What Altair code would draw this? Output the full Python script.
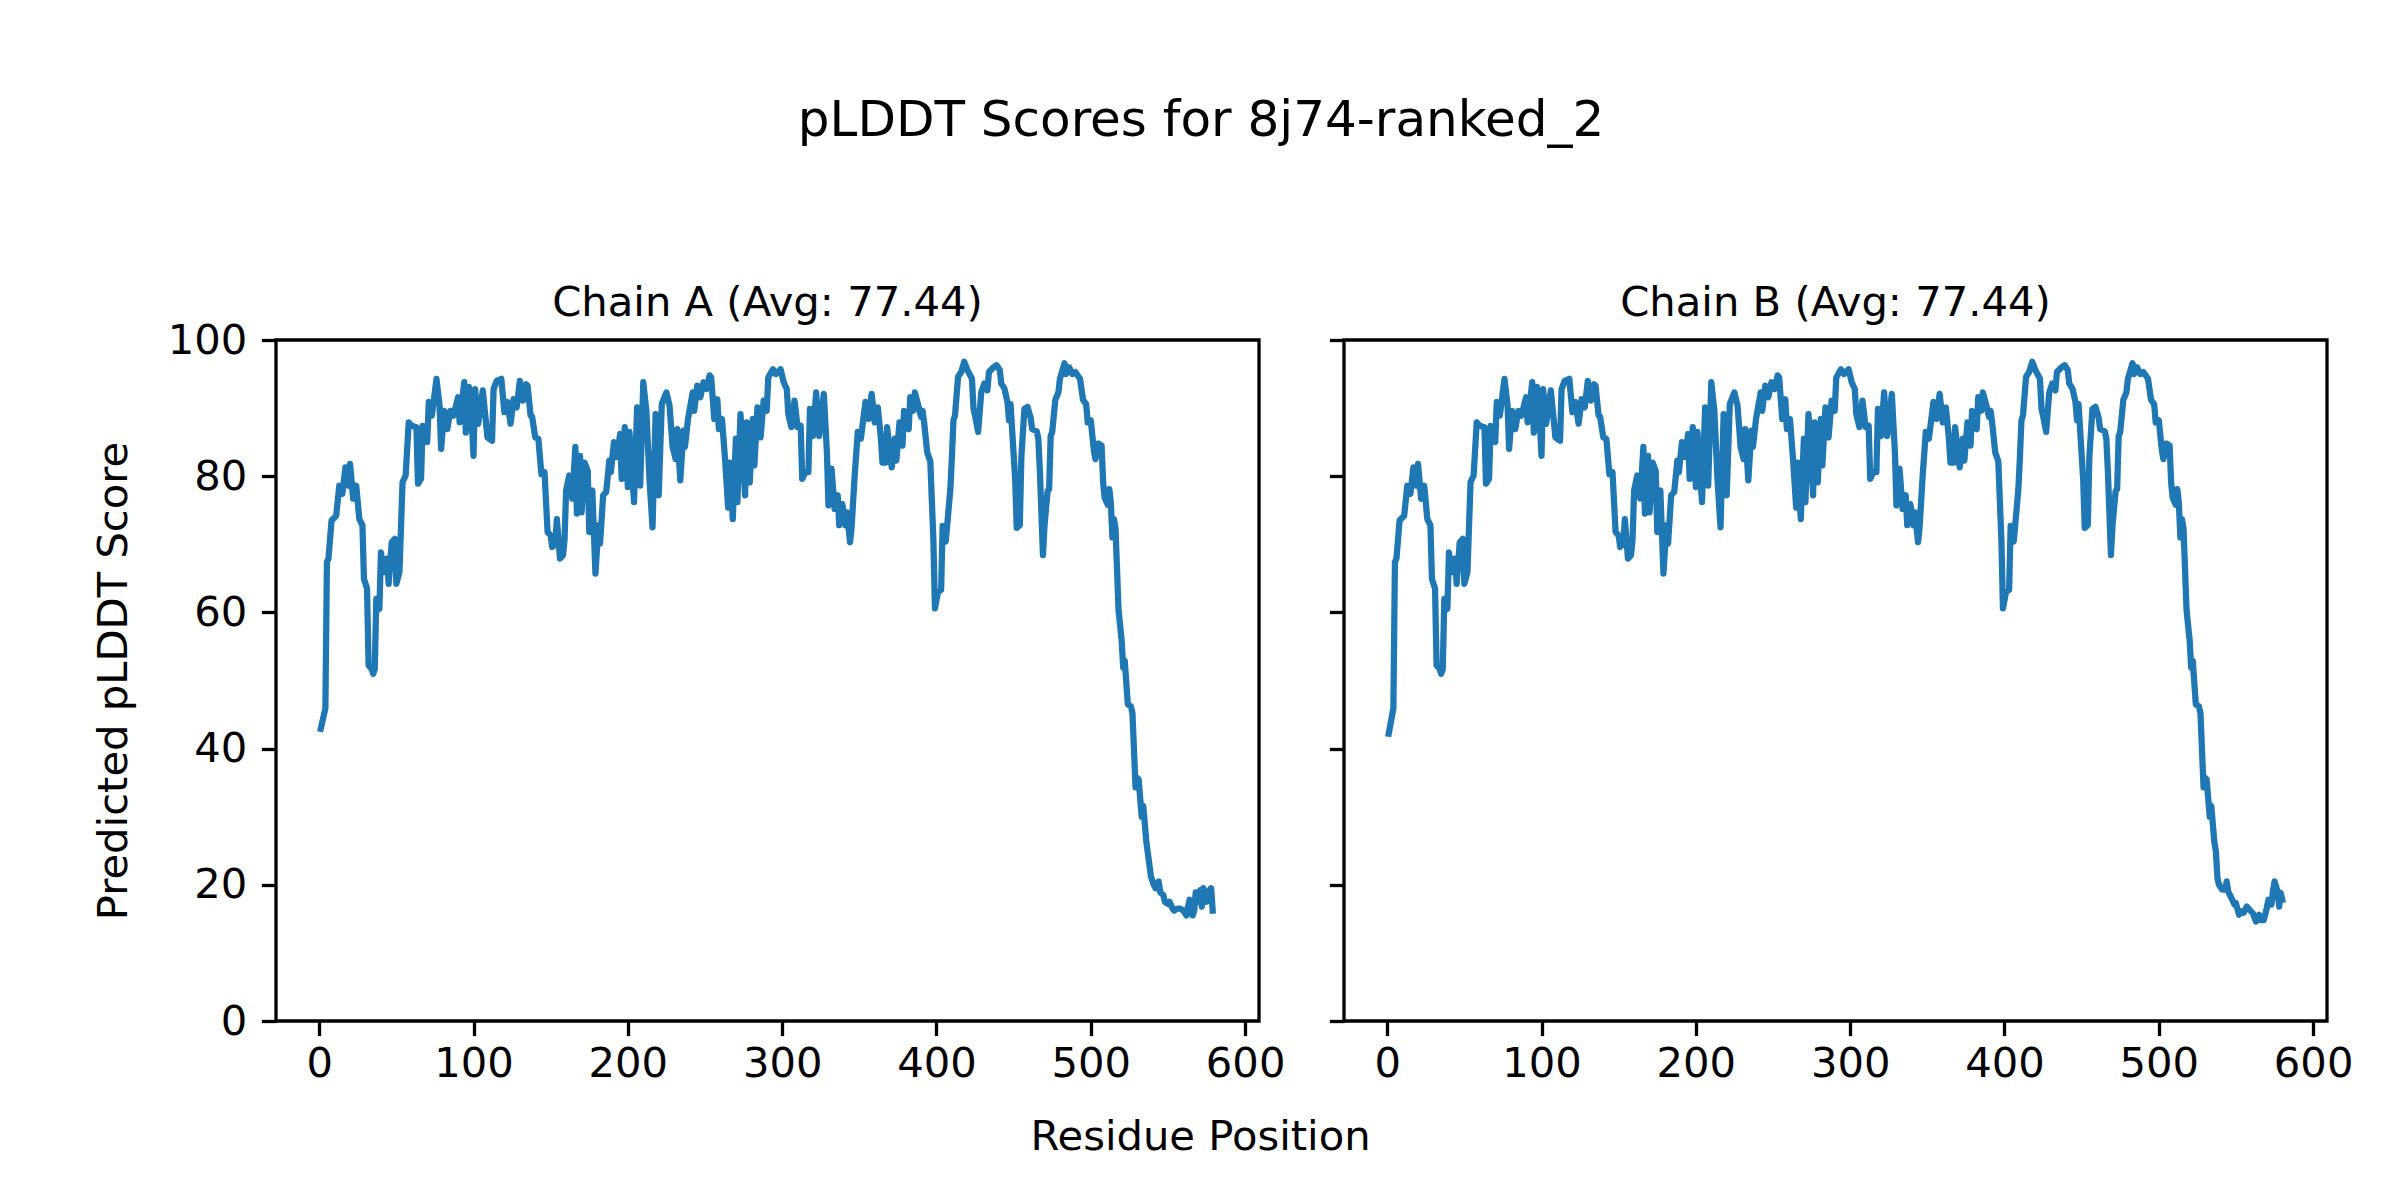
import altair as alt
import pandas as pd

TITLE = "pLDDT Scores for 8j74-ranked_2"
chain_titles = ["Chain A (Avg: 77.44)", "Chain B (Avg: 77.44)"]

# residues 4..536 (shared by both chains)
shared_pos = [4,5,6,8,11,13,15,17,19,20,22,24,26,28,29,31,32,34,35,36,37,39,40,42,44,45,47,49,50,52,
              54,56,58,60,63,64,66,67,70,71,73,76,78,79,81,83,85,87,90,91,94,95,97,99,100,101,103,106,109,112,
              113,115,118,120,122,124,126,128,130,132,134,135,137,138,140,142,144,146,148,150,151,153,154,156,158,159,160,162,164,166,
              167,169,170,172,174,175,177,179,181,182,184,186,188,189,191,193,195,196,198,200,201,204,206,208,210,212,214,216,218,220,
              222,225,227,229,231,232,234,236,237,239,242,243,245,247,249,251,253,254,256,258,259,261,263,265,266,268,270,271,273,276,
              277,279,281,282,284,286,288,290,291,294,296,299,301,303,304,306,308,310,312,313,315,317,318,320,322,324,327,329,330,332,
              334,336,337,339,341,342,344,345,347,349,351,354,356,358,360,362,364,365,367,368,371,373,374,376,378,379,382,383,385,386,
              388,390,391,392,394,396,398,399,401,403,404,406,409,410,411,412,414,416,418,420,423,424,425,427,429,431,433,434,437,439,
              441,442,444,446,447,448,451,452,454,455,457,459,461,462,465,466,467,469,470,472,473,474,475,477,479,480,483,484,486,488,
              490,493,495,497,498,500,502,503,505,507,508,509,511,512,513,514,515,516,518,520,521,522,524,526,527,529,530,531,533,534,
              536]
shared_score = [45.9,67.4,67.9,73.5,74.2,78.6,77.4,81.3,78.6,81.8,76.7,78.6,73.7,72.8,64.9,63.5,52.2,51.7,51.0,51.7,62.0,60.5,68.8,65.9,67.9,64.2,70.3,70.8,64.2,65.9,
                79.1,80.1,87.9,87.4,87.2,78.9,79.6,87.4,85.0,90.9,88.9,94.3,90.4,84.0,89.6,86.9,89.6,88.9,91.6,87.9,93.8,86.4,93.1,87.4,83.0,92.8,87.7,92.6,85.7,85.2,
                92.8,94.0,94.3,89.4,90.9,87.7,91.3,90.1,94.0,91.1,93.5,93.3,88.9,88.7,85.7,85.5,80.3,80.6,71.8,71.3,69.6,70.1,73.7,67.9,68.4,70.8,77.9,80.1,76.7,84.3,
                74.5,83.0,74.7,82.0,80.8,71.8,77.9,65.7,72.8,70.1,77.2,77.7,82.3,80.6,85.0,82.8,86.2,79.6,87.2,78.4,86.5,76.2,90.1,78.6,93.8,89.6,79.6,72.5,89.1,77.2,
                90.6,92.3,90.4,84.3,82.5,86.9,79.4,86.7,84.3,88.4,92.3,89.6,93.3,91.6,93.8,92.8,94.8,94.5,88.4,91.3,86.9,88.4,82.5,75.4,82.0,73.7,85.5,76.2,89.1,77.2,
                87.9,79.1,88.4,81.6,90.1,85.7,91.1,89.6,94.5,95.7,95.0,95.7,93.8,92.8,89.1,87.2,91.1,87.2,87.4,79.6,80.6,80.6,89.9,85.9,92.3,85.9,92.1,83.5,75.7,81.1,
                75.2,77.2,72.8,75.9,72.8,74.7,70.3,72.5,80.1,86.5,85.5,90.9,88.4,92.1,87.9,90.1,85.5,82.0,82.0,87.2,81.3,85.5,82.3,87.9,84.5,89.6,86.9,91.6,89.6,92.3,
                90.6,88.7,89.6,87.9,83.5,82.2,70.7,60.6,63.0,63.3,72.7,70.4,78.1,82.8,88.2,88.9,94.6,95.3,96.8,95.6,94.3,89.9,88.9,86.5,92.3,93.6,92.6,95.3,96.0,96.3,
                95.6,93.6,92.9,90.9,88.2,90.6,79.5,72.4,72.8,82.8,89.9,90.2,88.6,86.9,86.6,85.5,80.8,68.4,72.7,77.8,78.1,85.9,86.5,91.2,92.3,94.3,96.6,95.0,96.0,95.0,
                95.3,94.3,91.2,90.6,87.9,88.2,83.8,82.5,84.8,84.5,79.1,76.8,75.8,78.1,76.1,71.0,73.7,72.4,60.3,55.9,51.9,52.9,46.5,46.2,45.2,34.3,35.7,35.5,30.0,31.6,
                26.3]

start_a = 42.9
start_b = 42.2

tail_a_pos = [537,539,541,542,544,545,547,548,550,551,553,554,556,558,560,562,563,564,566,567,568,570,571,572,573,575,577,578,579]
tail_a_score = [24.6,21.2,19.9,19.5,20.5,18.9,18.5,17.5,17.2,17.5,16.5,16.2,16.5,16.5,16.2,15.5,16.8,17.8,15.5,16.2,18.9,17.5,19.2,16.8,19.5,17.5,19.2,19.5,16.2]

tail_b_pos = [537,538,539,541,543,544,545,547,549,550,552,554,555,557,559,561,563,565,566,568,570,571,573,574,575,577,578,579,580]
tail_b_score = [24.9,21.0,20.0,19.3,19.3,20.5,19.0,18.1,17.1,17.3,15.6,16.1,15.9,16.8,16.3,15.8,14.6,15.6,14.8,14.8,16.6,17.8,17.1,19.1,20.5,19.0,16.8,18.8,17.8]

x_ticks = [0, 100, 200, 300, 400, 500, 600]
y_ticks = [0, 20, 40, 60, 80, 100]

FONT = "DejaVu Sans"
PW, PH = 983, 681
LINE_W = 6.25
TICK = 14.6
SPINE = 3.3
GAP = 85


def label(text, x, y, size):
    return alt.Chart(pd.DataFrame({"t": [text]})).mark_text(
        font=FONT, fontSize=size, color="black", align="center", baseline="alphabetic"
    ).encode(text="t:N", x=alt.value(x), y=alt.value(y))


def panel(pos, score, title, first):
    df = pd.DataFrame({"pos": pos, "score": score})
    if first:
        xaxis = alt.Axis(values=x_ticks, title="Residue Position", titleX=924, titleY=115,
                         titleAlign="center", titleBaseline="middle", titleAngle=0)
        yaxis = alt.Axis(values=y_ticks, title="Predicted pLDDT Score", titleX=-163, titleY=PH / 2,
                         titleAlign="center", titleBaseline="middle", titleAngle=270)
    else:
        xaxis = alt.Axis(values=x_ticks, title="")
        yaxis = alt.Axis(values=y_ticks, title="", labels=False)
    line = alt.Chart(df).mark_line(
        color="#1f77b4", strokeWidth=LINE_W, strokeJoin="round", strokeCap="square", clip=True
    ).encode(
        x=alt.X("pos:Q", scale=alt.Scale(domain=[-28, 609], nice=False, zero=False), axis=xaxis),
        y=alt.Y("score:Q", scale=alt.Scale(domain=[0, 100], nice=False), axis=yaxis),
    )
    layers = [line, label(title, PW / 2, -24, 41.7)]
    if first:
        layers.append(label(TITLE, 925, -204, 50))
    return alt.layer(*layers).properties(width=PW, height=PH)


pos_a = [1] + shared_pos + tail_a_pos
score_a = [start_a] + shared_score + tail_a_score
pos_b = [1] + shared_pos + tail_b_pos
score_b = [start_b] + shared_score + tail_b_score

chart = alt.hconcat(
    panel(pos_a, score_a, chain_titles[0], True),
    panel(pos_b, score_b, chain_titles[1], False),
    spacing=GAP, bounds="flush",
).properties(
    padding={"left": 83, "top": 86, "right": 5, "bottom": 5},
    background="white",
).configure_view(
    stroke="black", strokeWidth=SPINE
).configure_axis(
    labelFont=FONT, labelFontSize=41.7, labelColor="black",
    titleFont=FONT, titleFontSize=41.7, titleFontWeight="normal", titleColor="black",
    tickColor="black", tickSize=TICK, tickWidth=SPINE, domain=False, grid=False,
).configure_axisX(
    labelPadding=8
).configure_axisY(
    labelPadding=TICK
)

chart.save("out.html", embed_options={"renderer": "svg", "actions": False})
